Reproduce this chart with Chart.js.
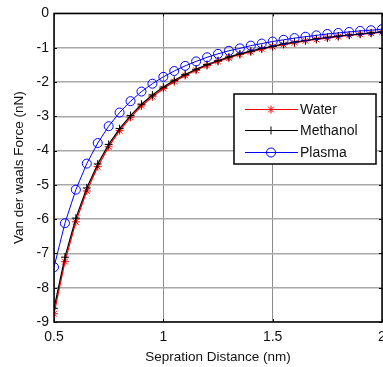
<!DOCTYPE html>
<html>
<head>
<meta charset="utf-8">
<script src="https://cdn.jsdelivr.net/npm/chart.js@4.4.1/dist/chart.umd.min.js"></script>
<style>
html, body { margin: 0; padding: 0; background: #fff; }
#wrap { width: 383px; height: 367px; }
</style>
</head>
<body>
<div id="wrap"><canvas id="vdw" width="383" height="367"></canvas></div>
<script>
// separation distance (nm)
const distances = [0.5, 0.55, 0.6, 0.65, 0.7, 0.75, 0.8, 0.85, 0.9, 0.95, 1.0, 1.05, 1.1, 1.15, 1.2, 1.25,
    1.3, 1.35, 1.4, 1.45, 1.5, 1.55, 1.6, 1.65, 1.7, 1.75, 1.8, 1.85, 1.9, 1.95, 2.0];
// force (nN)
const water = [-8.76, -7.24, -6.08, -5.18, -4.47, -3.89, -3.42, -3.03, -2.70, -2.43, -2.19, -1.99, -1.81,
    -1.66, -1.52, -1.40, -1.30, -1.20, -1.12, -1.04, -0.97, -0.91, -0.86, -0.80, -0.76, -0.72, -0.68, -0.64,
    -0.61, -0.58, -0.55];
const methanol = [-8.60, -7.11, -5.97, -5.09, -4.39, -3.82, -3.36, -2.98, -2.65, -2.38, -2.15, -1.95, -1.78,
    -1.63, -1.49, -1.38, -1.27, -1.18, -1.10, -1.02, -0.96, -0.89, -0.84, -0.79, -0.74, -0.70, -0.66, -0.63,
    -0.60, -0.57, -0.54];
const plasma = [-7.40, -6.12, -5.14, -4.38, -3.78, -3.29, -2.89, -2.56, -2.28, -2.05, -1.85, -1.68, -1.53,
    -1.40, -1.28, -1.18, -1.09, -1.02, -0.94, -0.88, -0.82, -0.77, -0.72, -0.68, -0.64, -0.60, -0.57, -0.54,
    -0.51, -0.49, -0.46];
const xTicks = [0.5, 1, 1.5, 2];
const yTicks = [-9, -8, -7, -6, -5, -4, -3, -2, -1, 0];

const fontFam = '"Liberation Sans", Arial, sans-serif';

function pts(ys) {
    return distances.map((x, i) => ({ x: x, y: ys[i] }));
}

// box round the axes + inward tick marks + legend inside the plot
const boxPlugin = {
    id: 'boxPlugin',
    afterDatasetsDraw(chart) {
        const ctx = chart.ctx;
        const a = chart.chartArea;
        const xs = chart.scales.x, ys = chart.scales.y;
        ctx.save();
        ctx.strokeStyle = '#000';
        ctx.lineWidth = 1;
        ctx.beginPath();
        xTicks.forEach(v => {
            const px = Math.round(xs.getPixelForValue(v)) + 0.5;
            ctx.moveTo(px, a.bottom); ctx.lineTo(px, a.bottom - 3);
            ctx.moveTo(px, a.top); ctx.lineTo(px, a.top + 3);
        });
        yTicks.forEach(v => {
            const py = Math.round(ys.getPixelForValue(v)) + 0.5;
            ctx.moveTo(a.left, py); ctx.lineTo(a.left + 3, py);
            ctx.moveTo(a.right, py); ctx.lineTo(a.right - 3, py);
        });
        ctx.stroke();
        ctx.lineWidth = 1.5;
        ctx.strokeRect(a.left, a.top, a.right - a.left, a.bottom - a.top);

        // legend
        const lx = 234, ly = 94, lw = 142, lh = 70;
        ctx.fillStyle = '#fff';
        ctx.fillRect(lx, ly, lw, lh);
        ctx.lineWidth = 1.5;
        ctx.strokeRect(lx, ly, lw, lh);
        ctx.font = '14px ' + fontFam;
        ctx.textBaseline = 'middle';
        const rows = [109, 130, 152];
        chart.data.datasets.forEach((ds, i) => {
            const y = rows[i];
            ctx.strokeStyle = ds.borderColor;
            ctx.lineWidth = 1;
            ctx.beginPath();
            ctx.moveTo(245, y + 0.5); ctx.lineTo(298, y + 0.5);
            ctx.stroke();
            ctx.fillStyle = ds.backgroundColor;
            Chart.helpers.drawPoint(ctx, {
                pointStyle: ds.pointStyle, radius: ds.pointRadius, borderWidth: 1
            }, 271, y + 0.5);
            ctx.fillStyle = '#111';
            ctx.fillText(ds.label, 300, y + 1);
        });
        ctx.restore();
    }
};

const chart = new Chart(document.getElementById('vdw').getContext('2d'), {
    type: 'line',
    data: {
        datasets: [
            {
                label: 'Water',
                data: pts(water),
                borderColor: '#ff0000',
                backgroundColor: '#ff0000',
                borderWidth: 1.2,
                pointStyle: 'star',
                pointRadius: 4,
                pointBorderWidth: 1,
                order: 3
            },
            {
                label: 'Methanol',
                data: pts(methanol),
                borderColor: '#000000',
                backgroundColor: '#000000',
                borderWidth: 1.2,
                pointStyle: 'cross',
                pointRadius: 4,
                pointBorderWidth: 1,
                order: 2
            },
            {
                label: 'Plasma',
                data: pts(plasma),
                borderColor: '#0000ff',
                backgroundColor: 'rgba(0,0,0,0)',
                borderWidth: 1,
                pointStyle: 'circle',
                pointRadius: 4.5,
                pointBorderWidth: 1,
                order: 1
            }
        ]
    },
    options: {
        responsive: false,
        animation: false,
        layout: { autoPadding: false, padding: { top: 12, right: 1, left: 11, bottom: 0 } },
        plugins: {
            legend: { display: false },
            tooltip: { enabled: false }
        },
        elements: { line: { tension: 0 } },
        scales: {
            x: {
                type: 'linear',
                min: 0.5,
                max: 2,
                afterBuildTicks: s => { s.ticks = xTicks.map(v => ({ value: v })); },
                afterFit: s => { s.height = 45; s.paddingLeft = 0; s.paddingRight = 0; },
                ticks: {
                    color: '#111',
                    font: { family: fontFam, size: 14 },
                    padding: 7,
                    maxRotation: 0,
                    callback: v => String(v)
                },
                grid: { color: '#8c8c8c', lineWidth: 1, tickLength: 0 },
                border: { display: false },
                title: {
                    display: true,
                    text: 'Sepration Distance (nm)',
                    color: '#111',
                    font: { family: fontFam, size: 13.5 },
                    padding: { top: 0, bottom: 2 }
                }
            },
            y: {
                type: 'linear',
                min: -9,
                max: 0,
                afterBuildTicks: s => { s.ticks = yTicks.map(v => ({ value: v })); },
                afterFit: s => { s.width = 43; },
                ticks: {
                    color: '#111',
                    font: { family: fontFam, size: 14 },
                    padding: 5,
                    callback: v => String(v)
                },
                grid: { color: '#a8a8a8', lineWidth: 1.5, tickLength: 0 },
                border: { display: false },
                title: {
                    display: true,
                    text: 'Van der waals Force (nN)',
                    color: '#111',
                    font: { family: fontFam, size: 13.5 },
                    padding: { top: 0, bottom: 0 }
                }
            }
        }
    },
    plugins: [boxPlugin]
});
</script>
</body>
</html>
